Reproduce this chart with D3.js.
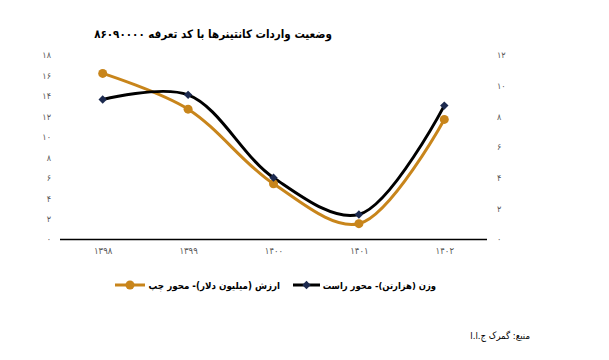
<!DOCTYPE html>
<html><head><meta charset="utf-8">
<script src="https://cdn.jsdelivr.net/npm/d3@7"></script>
<style>body{margin:0;background:#fff}svg{display:block}</style>
</head><body>
<svg id="c" width="609" height="360"></svg>
<script>
const categories = [1398, 1399, 1400, 1401, 1402];
const valueSeries = [16.2, 12.7, 5.4, 1.5, 11.7];   // ارزش (میلیون دلار) - left axis
const weightSeries = [9.1, 9.4, 4.0, 1.6, 8.7];     // وزن (هزارتن) - right axis
const leftTicks = [0, 2, 4, 6, 8, 10, 12, 14, 16, 18];
const rightTicks = [0, 2, 4, 6, 8, 10, 12];
const titleText = "وضعیت واردات کانتینرها با کد تعرفه ۸۶۰۹۰۰۰۰";
const legendValue = "ارزش (میلیون دلار)- محور چپ";
const legendWeight = "وزن (هزارتن)- محور راست";
const sourceText = "منبع: گمرک ج.ا.ا";

const fa = n => String(n).replace(/\d/g, d => "۰۱۲۳۴۵۶۷۸۹"[d]);
const FONT = "'DejaVu Sans Condensed', 'DejaVu Sans'";
const orange = "#c8851b", navy = "#1c2a4f";

const svg = d3.select("#c");
const x = d3.scalePoint().domain(categories).range([60, 487]).padding(0.5);
const yL = d3.scaleLinear().domain([0, 18]).range([239, 55]);
const yR = d3.scaleLinear().domain([0, 12]).range([239, 55]);

svg.append("text").attr("x", 213).attr("y", 38).attr("text-anchor", "middle")
  .attr("direction", "rtl")
  .style("font-family", FONT).style("font-weight", "bold").style("font-size", "11.5px")
  .text(titleText);

// left axis labels
const axL = d3.axisLeft(yL).tickValues(leftTicks).tickFormat(fa).tickSize(0).tickPadding(0);
const gL = svg.append("g").attr("transform", "translate(51,0)").call(axL);
gL.select(".domain").remove();
gL.selectAll("text").style("font-family", FONT).style("font-size", "9px").attr("fill", "#595959");

const axR = d3.axisRight(yR).tickValues(rightTicks).tickFormat(fa).tickSize(0).tickPadding(0);
const gR = svg.append("g").attr("transform", "translate(497,0)").call(axR);
gR.select(".domain").remove();
gR.selectAll("text").style("font-family", FONT).style("font-size", "9px").attr("fill", "#595959");

// x axis
const axX = d3.axisBottom(x).tickFormat(fa).tickSize(0).tickPadding(8);
const gX = svg.append("g").attr("transform", "translate(0,239)").call(axX);
gX.select(".domain").attr("d", "M60,0.5H487").attr("stroke", "#000").attr("stroke-width", 1.3);
gX.selectAll("text").style("font-family", FONT).style("font-size", "9.5px").attr("fill", "#595959");

const curve = d3.curveCatmullRom.alpha(0.5);
const lineL = d3.line().x((d, i) => x(categories[i])).y(d => yL(d)).curve(curve);
const lineR = d3.line().x((d, i) => x(categories[i])).y(d => yR(d)).curve(curve);

svg.append("path").attr("d", lineL(valueSeries)).attr("fill", "none")
  .attr("stroke", orange).attr("stroke-width", 3);
svg.append("path").attr("d", lineR(weightSeries)).attr("fill", "none")
  .attr("stroke", "#000").attr("stroke-width", 3);

svg.selectAll(".mo").data(valueSeries).join("circle")
  .attr("cx", (d, i) => x(categories[i])).attr("cy", d => yL(d)).attr("r", 4.5).attr("fill", orange);
const diamond = d3.symbol().type(d3.symbolDiamond2).size(45);
svg.selectAll(".mw").data(weightSeries).join("path")
  .attr("d", diamond).attr("transform", (d, i) => `translate(${x(categories[i])},${yR(d)})`)
  .attr("fill", navy);

// legend
const lg = svg.append("g");
lg.append("line").attr("x1", 293).attr("x2", 320).attr("y1", 285).attr("y2", 285).attr("stroke", "#000").attr("stroke-width", 3);
lg.append("path").attr("d", diamond).attr("transform", "translate(306.5,285)").attr("fill", navy);
lg.append("text").attr("x", 436).attr("y", 288.5).attr("text-anchor", "start").attr("direction", "rtl")
  .style("font-family", FONT).style("font-weight", "bold").style("font-size", "9.4px").text(legendWeight);
lg.append("line").attr("x1", 115).attr("x2", 145).attr("y1", 285).attr("y2", 285).attr("stroke", orange).attr("stroke-width", 3);
lg.append("circle").attr("cx", 130).attr("cy", 285).attr("r", 4.5).attr("fill", orange);
lg.append("text").attr("x", 280).attr("y", 288.5).attr("text-anchor", "start").attr("direction", "rtl")
  .style("font-family", FONT).style("font-weight", "bold").style("font-size", "9.7px").text(legendValue);

svg.append("text").attr("x", 530).attr("y", 339).attr("text-anchor", "start").attr("direction", "rtl")
  .style("font-family", FONT).style("font-size", "9.5px").text(sourceText);
</script>
</body></html>
